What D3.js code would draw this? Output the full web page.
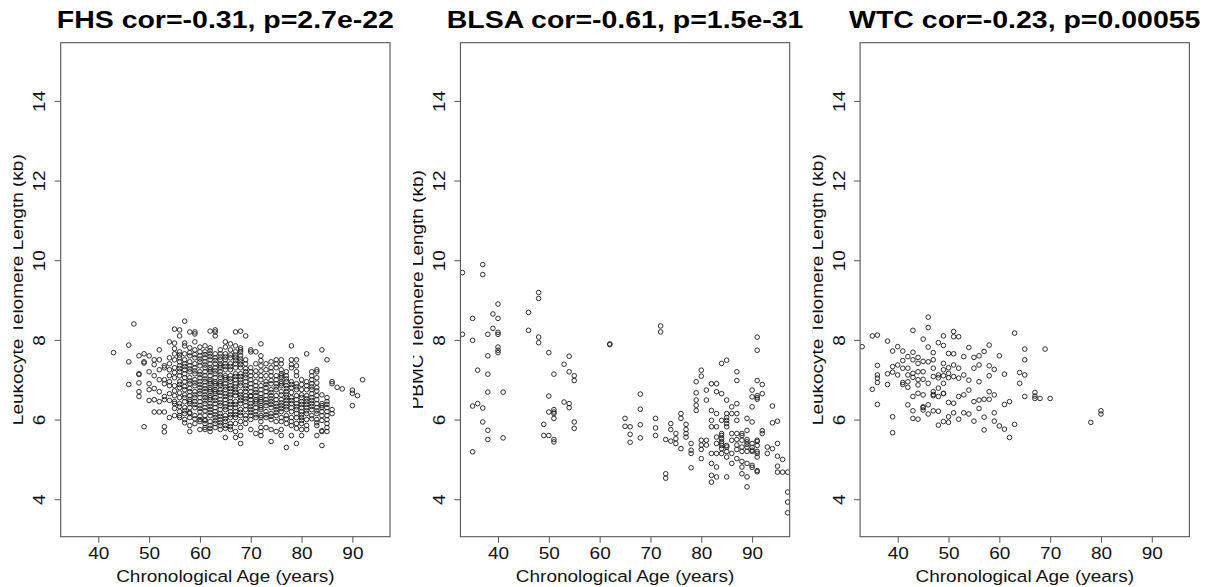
<!DOCTYPE html>
<html>
<head>
<meta charset="utf-8">
<script src="https://cdn.jsdelivr.net/npm/d3@7"></script>
<style>
  body { margin: 0; background: #fff; }
  svg { display: block; }
  text { font-family: "Liberation Sans", Arial, Helvetica, sans-serif; }
</style>
</head>
<body>
<svg id="chart" width="1206" height="587"></svg>
<script>
// Axis ticks and labels
const ageTicks = [40, 50, 60, 70, 80, 90];
const kbTicks = [4, 6, 8, 10, 12, 14];
const panelTitles = [
  "FHS cor=-0.31, p=2.7e-22",
  "BLSA cor=-0.61, p=1.5e-31",
  "WTC cor=-0.23, p=0.00055"
];
const yTitles = [
  "Leukocyte Telomere Length (kb)",
  "PBMC Telomere Length (kb)",
  "Leukocyte Telomere Length (kb)"
];
const xTitle = "Chronological Age (years)";

// Telomere length (kb) by chronological age (years), one row per age
const fhsByAge = [
  [43, [7.68]],
  [46, [7.87, 7.45, 6.88]],
  [47, [8.40]],
  [48, [7.60, 7.15, 7.13, 6.92, 6.70, 6.58]],
  [49, [7.65, 7.45, 7.42, 5.82]],
  [50, [7.60, 7.20, 6.90, 6.75, 6.48]],
  [51, [7.50, 7.38, 7.10, 6.78, 6.50, 6.19]],
  [52, [7.75, 7.50, 7.25, 7.00, 6.70, 6.45, 6.19]],
  [53, [7.35, 7.30, 7.00, 6.90, 6.58, 6.50, 6.19, 5.82, 5.69]],
  [54, [7.95, 7.55, 7.40, 7.25, 7.10, 6.95, 6.85, 6.65, 6.48, 6.05]],
  [55, [8.27, 7.92, 7.78, 7.65, 7.50, 7.30, 7.18, 7.05, 6.85, 6.72, 6.60, 6.45, 6.40, 6.28, 6.10]],
  [56, [8.25, 8.10, 7.70, 7.62, 7.55, 7.45, 7.35, 7.28, 7.20, 7.10, 6.95, 6.88, 6.80, 6.67, 6.55, 6.40, 6.33, 6.20, 6.10, 6.05]],
  [57, [8.47, 7.92, 7.85, 7.65, 7.50, 7.40, 7.33, 7.25, 7.15, 7.05, 6.95, 6.83, 6.75, 6.62, 6.55, 6.45, 6.30, 6.22, 6.15, 6.00, 5.92]],
  [58, [8.20, 7.80, 7.68, 7.60, 7.45, 7.35, 7.27, 7.20, 7.05, 6.97, 6.90, 6.78, 6.70, 6.60, 6.50, 6.45, 6.40, 6.30, 6.18, 6.15, 6.05, 5.85, 5.70]],
  [59, [8.20, 8.15, 7.95, 7.75, 7.63, 7.55, 7.40, 7.30, 7.22, 7.15, 7.00, 6.92, 6.85, 6.70, 6.62, 6.55, 6.45, 6.38, 6.30, 6.10, 6.02, 5.90]],
  [60, [7.82, 7.70, 7.60, 7.52, 7.45, 7.35, 7.20, 7.13, 7.05, 6.95, 6.88, 6.80, 6.72, 6.65, 6.55, 6.45, 6.35, 6.28, 6.20, 6.08, 6.00, 5.95, 5.75]],
  [61, [7.85, 7.70, 7.63, 7.55, 7.45, 7.37, 7.30, 7.20, 7.10, 7.02, 6.95, 6.85, 6.78, 6.70, 6.62, 6.55, 6.47, 6.40, 6.30, 6.22, 6.10, 6.00, 5.97, 5.90, 5.80, 5.75]],
  [62, [8.22, 7.80, 7.73, 7.65, 7.58, 7.50, 7.40, 7.30, 7.25, 7.20, 7.10, 7.00, 6.95, 6.90, 6.80, 6.75, 6.70, 6.60, 6.55, 6.50, 6.40, 6.33, 6.25, 6.18, 6.10, 5.95, 5.85, 5.78, 5.70]],
  [63, [8.25, 8.20, 8.10, 7.65, 7.55, 7.48, 7.40, 7.30, 7.22, 7.15, 7.05, 6.95, 6.90, 6.85, 6.75, 6.70, 6.65, 6.55, 6.48, 6.40, 6.30, 6.20, 6.12, 6.05, 5.97, 5.90, 5.80]],
  [64, [7.75, 7.65, 7.57, 7.50, 7.40, 7.35, 7.30, 7.20, 7.12, 7.05, 6.95, 6.90, 6.85, 6.75, 6.68, 6.60, 6.50, 6.42, 6.35, 6.25, 6.15, 6.08, 6.00, 5.92, 5.85, 5.75]],
  [65, [7.95, 7.82, 7.65, 7.57, 7.50, 7.40, 7.33, 7.25, 7.10, 7.05, 7.00, 6.90, 6.82, 6.75, 6.65, 6.58, 6.50, 6.40, 6.32, 6.25, 6.10, 6.02, 5.95, 5.85, 5.78, 5.55]],
  [66, [7.90, 7.75, 7.62, 7.55, 7.40, 7.33, 7.25, 7.10, 7.02, 6.95, 6.85, 6.78, 6.70, 6.62, 6.55, 6.45, 6.38, 6.30, 6.20, 6.12, 6.05, 5.90, 5.82, 5.75]],
  [67, [8.20, 7.85, 7.70, 7.62, 7.55, 7.48, 7.40, 7.30, 7.15, 7.08, 7.00, 6.90, 6.82, 6.75, 6.68, 6.60, 6.45, 6.38, 6.30, 6.20, 6.12, 6.05, 5.90, 5.70, 5.55]],
  [68, [8.22, 7.80, 7.75, 7.70, 7.60, 7.52, 7.45, 7.38, 7.30, 7.15, 7.08, 7.00, 6.92, 6.85, 6.70, 6.62, 6.55, 6.48, 6.40, 6.25, 6.18, 6.10, 5.95, 5.80, 5.60, 5.40]],
  [69, [8.10, 7.50, 7.40, 7.28, 7.20, 7.12, 7.05, 6.95, 6.85, 6.78, 6.70, 6.60, 6.52, 6.45, 6.35, 6.25, 6.10, 6.02, 5.90]],
  [70, [7.75, 7.70, 7.30, 7.20, 7.10, 7.00, 6.90, 6.80, 6.70, 6.60, 6.58, 6.50, 6.40, 6.33, 6.25, 6.18, 6.10, 6.00, 5.75]],
  [71, [7.70, 7.40, 7.22, 7.10, 6.95, 6.85, 6.75, 6.68, 6.60, 6.50, 6.45, 6.40, 6.30, 6.20, 6.12, 6.05, 5.65]],
  [72, [7.90, 7.60, 7.48, 7.35, 7.22, 7.10, 7.00, 6.85, 6.75, 6.65, 6.55, 6.50, 6.45, 6.35, 6.30, 6.25, 6.10, 6.05, 5.95, 5.80, 5.70, 5.60]],
  [73, [7.40, 7.25, 7.10, 6.95, 6.88, 6.80, 6.70, 6.60, 6.50, 6.42, 6.35, 6.20, 6.12, 6.05, 5.80]],
  [74, [7.45, 7.30, 7.20, 7.10, 6.98, 6.90, 6.75, 6.68, 6.60, 6.52, 6.45, 6.38, 6.30, 6.15, 6.08, 6.00, 5.75, 5.45]],
  [75, [7.50, 7.40, 7.30, 7.10, 7.00, 6.90, 6.82, 6.75, 6.60, 6.50, 6.40, 6.33, 6.25, 6.18, 6.10, 5.95, 5.70]],
  [76, [7.50, 7.40, 7.25, 7.15, 7.10, 7.05, 6.95, 6.90, 6.85, 6.70, 6.62, 6.50, 6.42, 6.35, 6.28, 6.20, 6.05, 5.95, 5.75, 5.60]],
  [77, [7.20, 7.10, 7.02, 6.95, 6.85, 6.78, 6.70, 6.62, 6.55, 6.48, 6.40, 6.32, 6.25, 6.10, 6.02, 5.90, 5.30]],
  [78, [7.85, 7.50, 7.38, 7.30, 6.95, 6.88, 6.80, 6.68, 6.55, 6.48, 6.40, 6.30, 6.20, 6.05, 5.95, 5.85, 5.60]],
  [79, [7.50, 7.35, 7.20, 7.10, 6.90, 6.82, 6.75, 6.60, 6.50, 6.40, 6.32, 6.25, 6.15, 6.05, 5.90, 5.78, 5.40]],
  [80, [7.00, 6.88, 6.75, 6.62, 6.55, 6.45, 6.38, 6.30, 6.20, 6.12, 6.05, 5.98, 5.90, 5.75, 5.60]],
  [81, [7.65, 6.95, 6.85, 6.75, 6.60, 6.52, 6.45, 6.38, 6.30, 6.22, 6.15, 6.00, 5.85, 5.75]],
  [82, [7.20, 7.10, 7.00, 6.90, 6.82, 6.75, 6.65, 6.55, 6.48, 6.40, 6.33, 6.25, 6.10, 6.02]],
  [83, [7.25, 7.20, 7.05, 6.92, 6.80, 6.72, 6.60, 6.50, 6.40, 6.30, 6.22, 6.15, 6.00, 5.92, 5.85, 5.60]],
  [84, [7.75, 6.62, 6.40, 6.35, 6.30, 6.20, 6.10, 5.98, 5.72, 5.70, 5.35]],
  [85, [7.50, 6.55, 6.45, 6.38, 6.30, 6.20, 6.10, 6.00, 5.90, 5.80, 5.70]],
  [86, [6.95, 6.90, 6.25, 6.15]],
  [87, [6.81]],
  [88, [6.77]],
  [90, [6.74, 6.66, 6.35]],
  [91, [6.60]],
  [92, [7.00]]
];

const blsaByAge = [
  [33, [9.69, 8.14]],
  [35, [8.54, 7.99, 6.34, 5.19]],
  [36, [7.24, 6.40]],
  [37, [9.89, 9.64, 6.29, 5.94]],
  [38, [8.14, 7.60, 7.14, 6.69, 5.73, 5.50]],
  [39, [8.65, 8.29]],
  [40, [8.90, 8.54, 8.19, 8.14, 7.82, 7.74, 7.68]],
  [41, [6.69, 5.54]],
  [46, [8.69, 8.24]],
  [48, [9.19, 9.04, 8.07, 7.93]],
  [49, [5.88, 5.60]],
  [50, [7.68, 6.59, 6.19, 5.60]],
  [51, [7.14, 6.25, 6.19, 6.15, 6.03, 5.50, 5.44]],
  [53, [7.39, 6.44]],
  [54, [7.59, 7.20, 6.40, 6.30]],
  [55, [7.10, 6.98, 5.94, 5.78]],
  [62, [7.90, 7.88]],
  [65, [6.03, 5.83]],
  [66, [5.82, 5.63, 5.43]],
  [68, [6.64, 6.26, 5.87, 5.54]],
  [71, [6.03, 5.79, 5.60]],
  [72, [8.35, 8.20]],
  [73, [5.50, 4.64, 4.53]],
  [74, [5.90, 5.75, 5.46]],
  [75, [5.65, 5.52, 5.40]],
  [76, [6.15, 6.03, 5.27]],
  [77, [5.88, 5.75, 5.65, 5.56]],
  [78, [5.40, 5.23, 5.15, 4.79]],
  [79, [6.95, 6.67, 6.49, 6.36, 6.23]],
  [80, [7.24, 7.09, 5.48, 5.36, 5.25, 5.02]],
  [81, [6.74, 6.49, 5.48, 5.36]],
  [82, [6.90, 6.23, 5.98, 5.82, 5.15, 4.90, 4.60, 4.43]],
  [83, [6.90, 6.70, 6.15, 5.82, 5.56, 5.40, 5.15, 4.81, 4.56]],
  [84, [7.41, 6.65, 5.98, 5.65, 5.60, 5.52, 5.45, 5.40, 5.35, 5.27, 5.15]],
  [85, [7.49, 6.49, 6.15, 6.05, 5.98, 5.90, 5.82, 5.35, 5.31, 5.20, 5.06, 4.56]],
  [86, [6.32, 6.15, 5.65, 5.48, 5.15, 4.90]],
  [87, [7.20, 6.98, 6.40, 6.15, 5.98, 5.65, 5.50, 5.36, 5.25, 5.02]],
  [88, [5.65, 5.60, 5.48, 5.31, 5.20, 4.95, 4.81, 4.64]],
  [89, [6.03, 5.73, 5.50, 5.44, 5.38, 5.31, 5.20, 4.90, 4.56, 4.31]],
  [90, [6.74, 6.57, 6.32, 5.94, 5.40, 5.30, 5.23, 5.20, 4.85, 4.80]],
  [91, [8.07, 7.74, 6.98, 6.60, 6.55, 6.51, 5.48, 5.45, 5.35, 5.20, 5.15, 5.06, 4.72, 4.69]],
  [92, [6.88, 6.65, 5.72, 5.65]],
  [93, [5.31, 5.15]],
  [94, [6.34, 5.92, 5.27]],
  [95, [5.96, 5.40, 5.08, 4.83, 4.68]],
  [96, [5.00, 4.68]],
  [97, [4.68, 4.18, 3.93, 3.66]]
];

const wtcByAge = [
  [33, [7.83]],
  [35, [8.10, 6.76]],
  [36, [8.12, 7.36, 7.12, 7.04, 6.93, 6.38]],
  [38, [7.97, 7.15, 6.88]],
  [39, [7.72, 7.33, 7.19, 6.07, 5.67]],
  [40, [7.83, 7.37, 7.12]],
  [41, [7.72, 7.48, 7.29, 6.93, 6.88]],
  [42, [7.58, 7.29, 7.12, 6.95, 6.81, 6.37]],
  [43, [8.24, 7.69, 7.50, 7.16, 7.06, 6.58, 6.22, 6.03]],
  [44, [7.56, 7.41, 7.20, 7.00, 6.87, 6.66, 6.01]],
  [45, [8.02, 7.46, 7.20, 7.01, 6.62, 6.32, 6.30, 6.24]],
  [46, [8.57, 8.31, 7.82, 7.45, 6.91, 6.37, 6.14]],
  [47, [7.68, 7.50, 7.29, 7.08, 6.70, 6.63, 6.60, 6.22]],
  [48, [7.93, 7.12, 7.05, 6.79, 6.58, 6.21, 5.86]],
  [49, [8.10, 7.86, 7.41, 7.25, 7.10, 6.91, 6.66, 6.65, 5.95]],
  [50, [7.66, 7.30, 7.16, 7.05, 6.43, 6.07, 5.93]],
  [51, [8.21, 8.08, 7.65, 7.37, 7.08, 6.41, 6.17]],
  [52, [8.08, 7.29, 7.04, 6.58, 6.01]],
  [53, [7.58, 7.12, 6.62, 6.17]],
  [54, [7.81, 6.99, 6.74, 6.14]],
  [55, [7.56, 7.29, 6.45, 5.96]],
  [56, [7.60, 7.37, 6.95, 6.49, 6.28]],
  [57, [7.71, 6.51, 6.06, 5.74]],
  [58, [7.87, 7.35, 7.10, 6.70, 6.51]],
  [59, [7.26, 6.62, 6.17, 5.96]],
  [60, [7.60, 5.84]],
  [61, [7.14, 6.38, 5.76]],
  [62, [6.45, 5.55]],
  [63, [8.17, 5.88]],
  [64, [7.18, 6.91]],
  [65, [7.77, 7.50, 7.12, 6.58]],
  [67, [6.68, 6.59, 6.53]],
  [68, [6.53]],
  [69, [7.77]],
  [70, [6.53]],
  [78, [5.93]],
  [80, [6.22, 6.14]]
];

const studyRows = [fhsByAge, blsaByAge, wtcByAge];

// Layout of the three side-by-side panels
const W = 1206, H = 587;
const panelStep = 399.7;
const plotLeft = 60.7, plotWidth = 329.3;
const plotTop = 42.7, plotBottom = 536.7;
const ageDomain = [32.6, 97.4];
const kbDomain = [3.06, 15.46];
// glyphs are set slightly narrow across their baseline
const squash = 0.84;

const svg = d3.select("#chart");
const lineColor = "#555";
const inkColor = "#111";

studyRows.forEach((rows, i) => {
  const left = plotLeft + panelStep * i;
  const right = left + plotWidth;
  const x = d3.scaleLinear().domain(ageDomain).range([left, right]);
  const y = d3.scaleLinear().domain(kbDomain).range([plotBottom, plotTop]);
  const points = rows.flatMap(([age, vals]) => vals.map(v => ({ age, kb: v })));

  const g = svg.append("g").attr("class", "panel");

  // clip the points to the plotting region
  const clipId = "plot-clip-" + i;
  svg.append("clipPath").attr("id", clipId)
    .append("rect")
    .attr("x", left).attr("y", plotTop)
    .attr("width", plotWidth).attr("height", plotBottom - plotTop);

  g.append("g").attr("clip-path", `url(#${clipId})`)
    .selectAll("circle")
    .data(points)
    .join("circle")
    .attr("cx", d => x(d.age))
    .attr("cy", d => y(d.kb))
    .attr("r", 2.3)
    .attr("fill", "none")
    .attr("stroke", "#1a1a1a")
    .attr("stroke-opacity", 0.9)
    .attr("stroke-width", 1);

  // bottom axis
  const xAxis = g.append("g")
    .attr("transform", `translate(0,${plotBottom})`)
    .call(d3.axisBottom(x).tickValues(ageTicks).tickSize(6).tickFormat(d3.format("d")));
  xAxis.select(".domain").remove();
  xAxis.selectAll(".tick line").attr("stroke", lineColor);
  xAxis.selectAll(".tick text")
    .attr("y", 0).attr("dy", null)
    .attr("transform", `translate(0,22.6) scale(1,${squash})`)
    .attr("fill", inkColor)
    .style("font-size", "19px");

  // left axis with rotated tick labels
  const yAxis = g.append("g")
    .attr("transform", `translate(${left},0)`)
    .call(d3.axisLeft(y).tickValues(kbTicks).tickSize(6).tickFormat(d3.format("d")));
  yAxis.select(".domain").remove();
  yAxis.selectAll(".tick line").attr("stroke", lineColor);
  yAxis.selectAll(".tick text")
    .attr("x", 0).attr("dy", null)
    .attr("text-anchor", "middle")
    .attr("transform", `translate(-15.5,0) scale(${squash},1) rotate(-90)`)
    .attr("fill", inkColor)
    .style("font-size", "19px");

  // plot frame
  g.append("rect")
    .attr("x", left).attr("y", plotTop)
    .attr("width", plotWidth).attr("height", plotBottom - plotTop)
    .attr("fill", "none")
    .attr("stroke", lineColor)
    .attr("stroke-width", 1.1);

  // panel title
  g.append("text")
    .attr("transform", `translate(${(left + right) / 2},28.3) scale(1,${squash})`)
    .attr("text-anchor", "middle")
    .attr("font-weight", "bold")
    .attr("fill", "#000")
    .style("font-size", "28.5px")
    .text(panelTitles[i]);

  // x axis title
  g.append("text")
    .attr("transform", `translate(${(left + right) / 2},581.5) scale(1,${squash})`)
    .attr("text-anchor", "middle")
    .attr("fill", inkColor)
    .style("font-size", "19px")
    .text(xTitle);

  // y axis title, trimmed along its top edge by the panel margin
  const titleX = left - 37.4;
  const labelClip = "ylab-clip-" + i;
  svg.append("clipPath").attr("id", labelClip)
    .append("rect")
    .attr("x", titleX - 10).attr("y", 0)
    .attr("width", 40).attr("height", H);
  g.append("g")
    .attr("clip-path", `url(#${labelClip})`)
    .append("text")
    .attr("transform", `translate(${titleX},${(plotTop + plotBottom) / 2}) scale(${squash},1) rotate(-90)`)
    .attr("text-anchor", "middle")
    .attr("fill", inkColor)
    .style("font-size", "19px")
    .text(yTitles[i]);
});
</script>
</body>
</html>
